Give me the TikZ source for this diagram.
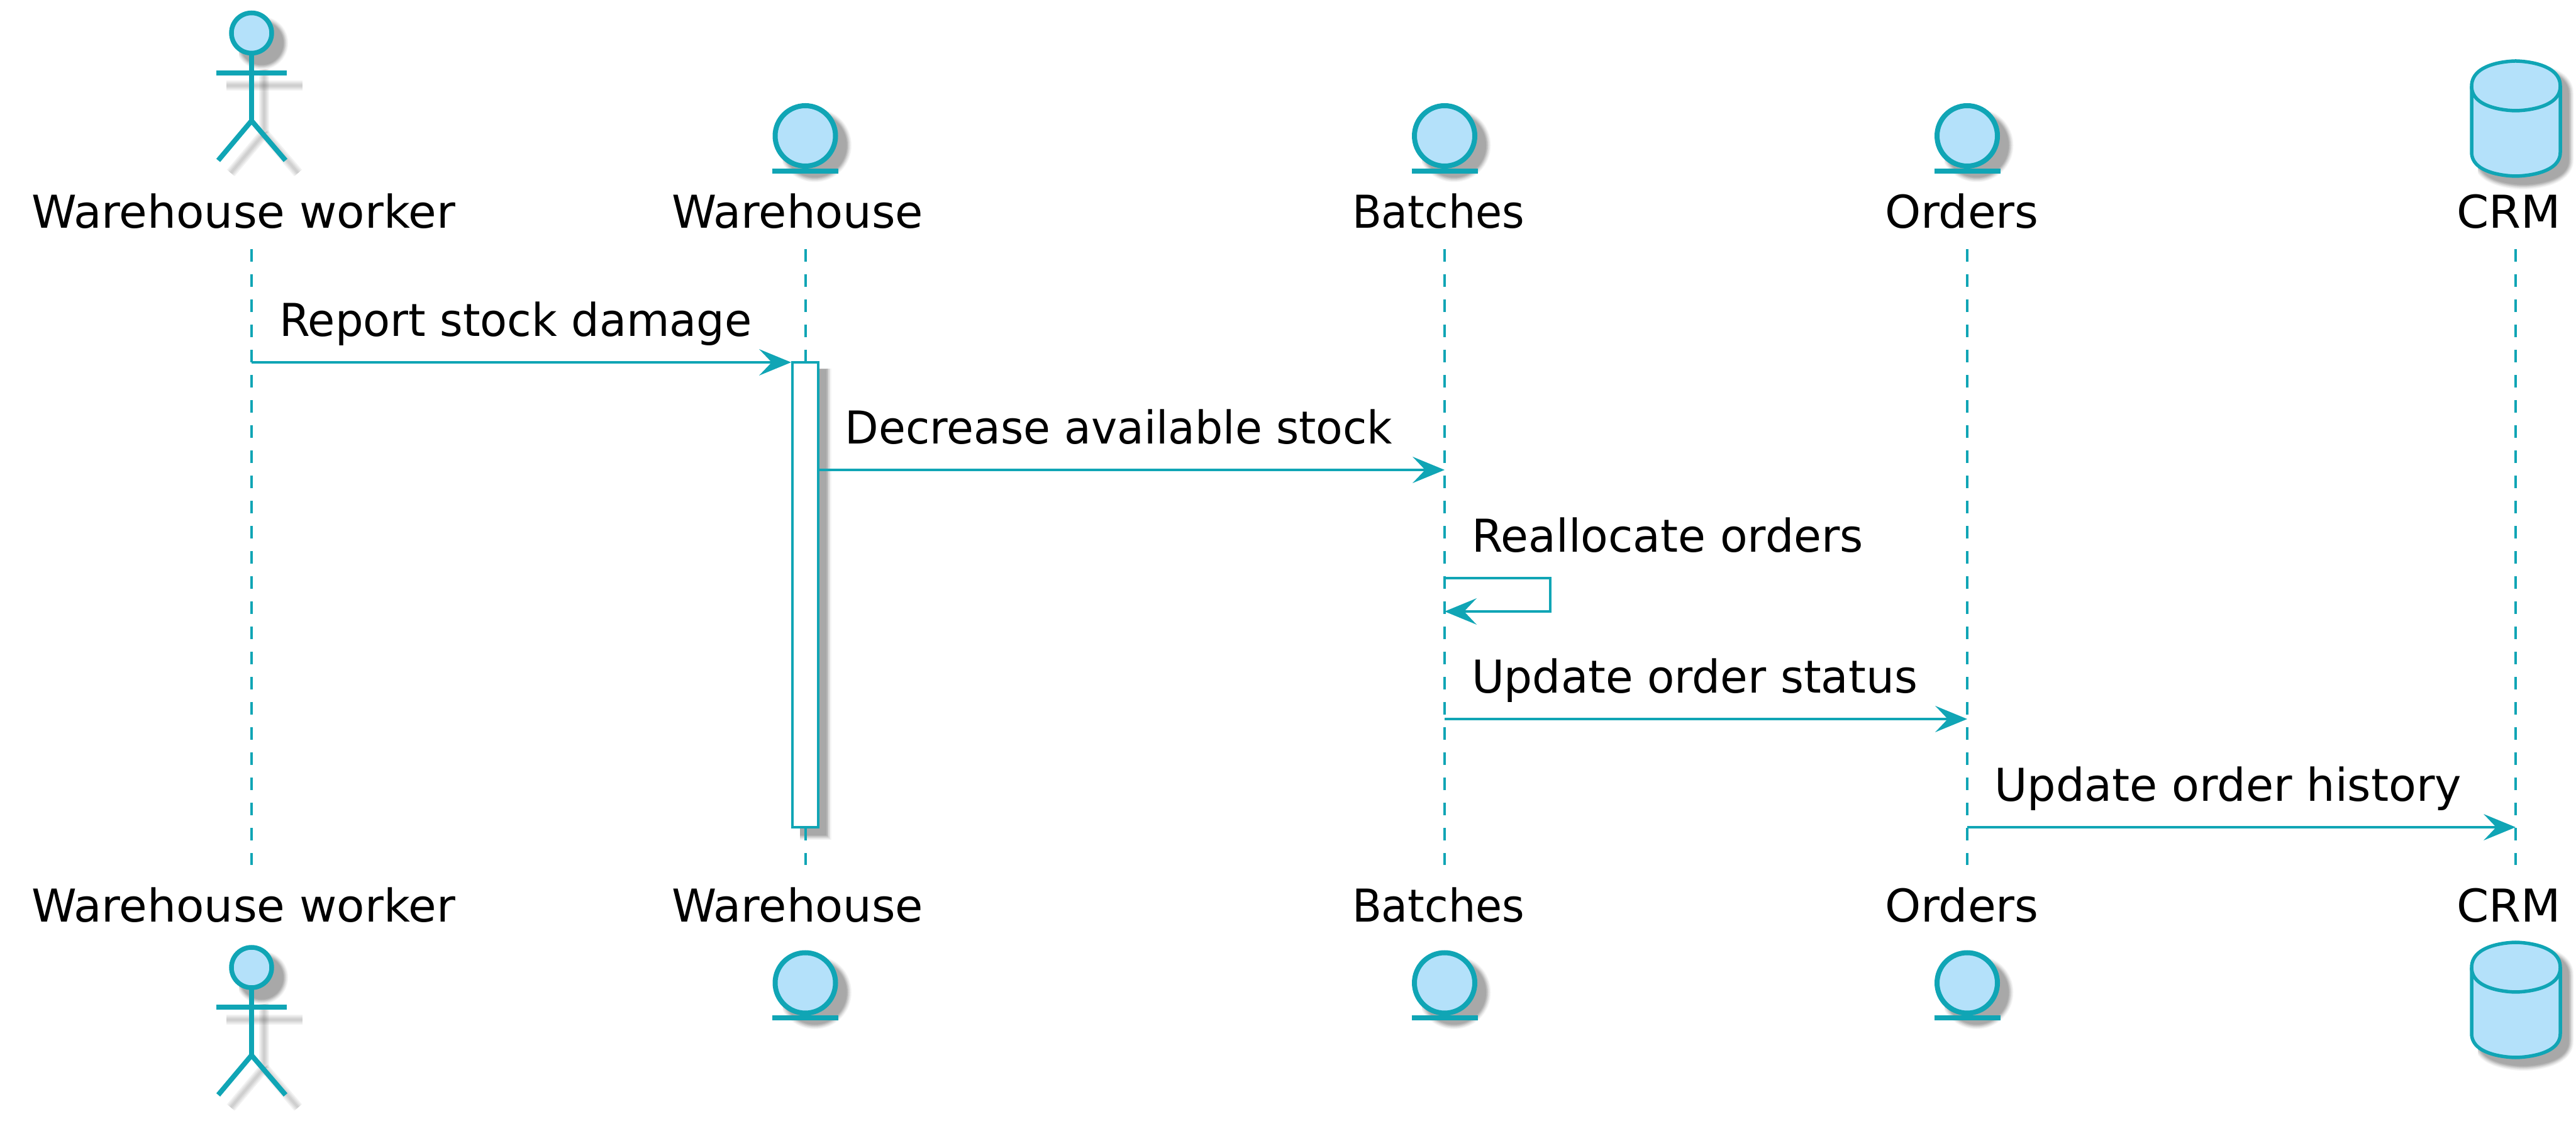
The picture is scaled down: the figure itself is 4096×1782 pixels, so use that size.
\documentclass[tikz,border=0pt]{standalone}
\usepackage{fontspec}
\setmainfont{DejaVu Sans}
\usetikzlibrary{arrows.meta}
\definecolor{teal}{HTML}{10A5B5}
\definecolor{skyfill}{HTML}{B4E1FA}
\newcommand{\softshape}[2]{% line width of the shape, path
  \foreach \d/\c in {13/black!4,10/black!9,7/black!15,4/black!22,1/black!29,-2/black!34}{%
    \path[draw=\c,fill=\c,line width={(#1+\d)*0.2pt}] #2;}}
\newcommand{\softline}[1]{% stroke-only shadow
  \foreach \w in {4,8,12,16}{%
    \draw[black,opacity=.05,line width={\w*0.2pt}] #1;}}
\newcommand{\actorfig}[2]{% name, x
  \begin{scope}
    \clip (#2-40,0) rectangle (#2+81,280);
    \softline{(#2-55,136)--(#2+81,136)}
    \softline{(#2+20,88)--(#2+20,212)}
    \softline{(#2+20,212)--(#2-33,275)}
    \softline{(#2+20,212)--(#2+74,275)}
  \end{scope}
  \begin{scope}
    \clip (#2-20,0) rectangle (#2+81,280);
    \softshape{7.5}{(#2+16,68.5) circle[radius=32]}
  \end{scope}
  \draw[actorline] (#2,88) -- (#2,192);
  \draw[actorline] (#2-56,116) -- (#2+56,116);
  \draw[actorline] (#2-53,255) -- (#2,192) -- (#2+54,255);
  \node[head] (#1) at (#2,52.5) {};
}
\newcommand{\entityfig}[2]{% name, x
  \begin{scope}
    \clip (#2-36,0) rectangle (#2+90,300);
    \softshape{8}{(#2+15,231) circle[radius=48]}
  \end{scope}
  \draw[entbar] (#2-52.5,272) -- (#2+52.5,272);
  \node[entcircle] (#1) at (#2,216) {};
}
\newcommand{\cylpath}[1]{(#1-70,137) .. controls (#1-70,97) and (#1,97) .. (#1,97) .. controls (#1,97) and (#1+71,97) .. (#1+71,137) -- (#1+71,242) .. controls (#1+71,280) and (#1,280) .. (#1,280) .. controls (#1,280) and (#1-70,280) .. (#1-70,242) -- cycle}
\newcommand{\cylfig}[2]{% name, x
  \begin{scope}
    \clip (#2-60,107) rectangle (#2+96,310);
    \begin{scope}[shift={(12,12)}]
      \softshape{5.5}{\cylpath{#2}}
    \end{scope}
  \end{scope}
  \path[draw=teal,fill=skyfill,line width=1.1pt] \cylpath{#2};
  \draw[draw=teal,line width=1.1pt] (#2-70,137) .. controls (#2-70,176) and (#2,176) .. (#2,176) .. controls (#2,176) and (#2+71,176) .. (#2+71,137);
  \coordinate (#1) at (#2,188);
}
\newcommand{\tx}[2]{\scalebox{#1}[1]{#2}}
\begin{document}
\begin{tikzpicture}[x=0.2pt,y=-0.2pt,
  lbl/.style={anchor=base west,inner sep=0pt,outer sep=0pt,font=\fontsize{14.4}{16}\selectfont,text=black},
  msg/.style={lbl},
  actorline/.style={draw=teal,line width=1.6pt},
  entbar/.style={draw=teal,line width=1.6pt},
  head/.style={circle,draw=teal,fill=skyfill,line width=1.5pt,minimum size=12.8pt,inner sep=0pt,outer sep=0pt},
  entcircle/.style={circle,draw=teal,fill=skyfill,line width=1.6pt,minimum size=19.2pt,inner sep=0pt,outer sep=0pt},
  lifeline/.style={draw=teal,line width=0.8pt,dash pattern=on 4pt off 4pt},
  arrowline/.style={draw=teal,line width=0.8pt,-{Stealth[length=10.2pt,width=8.4pt,inset=4pt,line width=0pt,fill=teal]}},
  actbox/.style={draw=teal,fill=white,line width=0.8pt}]
\useasboundingbox (0,0) rectangle (4096,1782);
% top participants
\actorfig{wkT}{400}
\entityfig{whT}{1280.5}
\entityfig{baT}{2297}
\entityfig{orT}{3128}
\cylfig{crT}{4000}
\node[lbl] (wkTl) at (50,363) {\tx{1.008}{Warehouse worker}};
\node[lbl] (whTl) at (1068,363) {\tx{1}{Warehouse}};
\node[lbl] (baTl) at (2150,363) {\tx{.95}{Batches}};
\node[lbl] (orTl) at (2997,363) {\tx{1.01}{Orders}};
\node[lbl] (crTl) at (3906,363) {\tx{1.02}{CRM}};
% bottom participants
\begin{scope}[shift={(0,1485.5)}]
  \actorfig{wkB}{400}
\end{scope}
\begin{scope}[shift={(0,1346.5)}]
  \entityfig{whB}{1280.5}
  \entityfig{baB}{2297}
  \entityfig{orB}{3128}
\end{scope}
\begin{scope}[shift={(0,1401)}]
  \cylfig{crB}{4000}
\end{scope}
\node[lbl] (wkBl) at (50,1466) {\tx{1.008}{Warehouse worker}};
\node[lbl] (whBl) at (1068,1466) {\tx{1}{Warehouse}};
\node[lbl] (baBl) at (2150,1466) {\tx{.95}{Batches}};
\node[lbl] (orBl) at (2997,1466) {\tx{1.01}{Orders}};
\node[lbl] (crBl) at (3906,1466) {\tx{1.02}{CRM}};
% activation shadow
\begin{scope}
  \clip (1272,587) rectangle (1330,1340);
  \softshape{4}{(1272,588) rectangle (1313,1327)}
\end{scope}
% lifelines
\coordinate (wk0) at (400,396);   \coordinate (wk1) at (400,1375);
\coordinate (wh0) at (1280.5,396);\coordinate (wh1) at (1280.5,1375);
\coordinate (ba0) at (2297,396);  \coordinate (ba1) at (2297,1375);
\coordinate (or0) at (3128,396);  \coordinate (or1) at (3128,1375);
\coordinate (cr0) at (4000,396);  \coordinate (cr1) at (4000,1375);
\draw[lifeline] (wk0) -- (wk1);
\draw[lifeline] (wh0) -- (wh1);
\draw[lifeline] (ba0) -- (ba1);
\draw[lifeline] (or0) -- (or1);
\draw[lifeline] (cr0) -- (cr1);
% activation
\coordinate (act0) at (1260,576);
\coordinate (act1) at (1301,1315);
\draw[actbox] (act0) rectangle (act1);
% messages
\coordinate (m1a) at (400,576);  \coordinate (m1b) at (1258,576);
\coordinate (m2a) at (1301,747); \coordinate (m2b) at (2297,747);
\coordinate (m3a) at (2297,919); \coordinate (m3c) at (2465,919);
\coordinate (m3d) at (2465,972); \coordinate (m3b) at (2297,972);
\coordinate (m4a) at (2297,1143);\coordinate (m4b) at (3128,1143);
\coordinate (m5a) at (3128,1315);\coordinate (m5b) at (4000,1315);
\draw[arrowline] (m1a) -- (m1b);
\draw[arrowline] (m2a) -- (m2b);
\draw[arrowline] (m3a) -- (m3c) -- (m3d) -- (m3b);
\draw[arrowline] (m4a) -- (m4b);
\draw[arrowline] (m5a) -- (m5b);
\node[msg] (t1) at (444,535) {\tx{.977}{Report stock damage}};
\node[msg] (t2) at (1343.5,706) {\tx{.968}{Decrease available stock}};
\node[msg] (t3) at (2340,878) {\tx{.992}{Reallocate orders}};
\node[msg] (t4) at (2340,1102) {\tx{.985}{Update order status}};
\node[msg] (t5) at (3171,1274) {\tx{.996}{Update order history}};
\end{tikzpicture}
\end{document}
